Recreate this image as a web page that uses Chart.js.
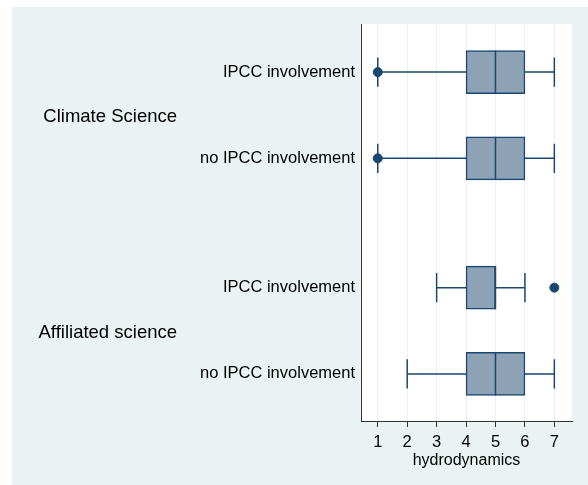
<!DOCTYPE html>
<html>
<head>
<meta charset="utf-8">
<script src="https://cdn.jsdelivr.net/npm/chart.js@4/dist/chart.umd.min.js"></script>
<style>
  html, body { margin: 0; padding: 0; background: #fff; }
  #wrap { width: 588px; height: 485px; position: relative; }
</style>
</head>
<body>
<div id="wrap"><canvas id="boxChart"></canvas></div>
<script>
// datos
const rowLabels = ['IPCC involvement', 'no IPCC involvement', 'IPCC involvement', 'no IPCC involvement'];
const rowPos = [1, 3, 6, 8];
const groupLabels = ['Climate Science', 'Affiliated science'];
const groupPos = [2, 7];

const whiskLow = [1, 1, 3, 2];
const q1 = [4, 4, 4, 4];
const median = [5, 5, 5, 5];
const q3 = [6, 6, 5, 6];
const whiskHigh = [7, 7, 6, 7];
const outliers = [[1], [1], [7], []];

const xTicks = [1, 2, 3, 4, 5, 6, 7];
const xTitle = 'hydrodynamics';

const navy = '#1a476f';
const boxFill = '#8da2b5';
const panel = '#eaf2f3';
const fontFam = '"Liberation Sans", Arial, Helvetica, sans-serif';

// segmentos: bigotes, tapas y medianas (null = corte)
const capHalf = 0.34, boxHalf = 0.5;
const segs = [];
rowPos.forEach((y, i) => {
  segs.push({ x: whiskLow[i], y }, { x: q1[i], y }, { x: null, y: null });
  segs.push({ x: q3[i], y }, { x: whiskHigh[i], y }, { x: null, y: null });
  segs.push({ x: whiskLow[i], y: y - capHalf }, { x: whiskLow[i], y: y + capHalf }, { x: null, y: null });
  segs.push({ x: whiskHigh[i], y: y - capHalf }, { x: whiskHigh[i], y: y + capHalf }, { x: null, y: null });
  segs.push({ x: median[i], y: y - boxHalf }, { x: median[i], y: y + boxHalf }, { x: null, y: null });
});

const outPts = [];
outliers.forEach((arr, i) => arr.forEach(v => outPts.push({ x: v, y: rowPos[i] })));

const fondo = {
  id: 'fondo',
  beforeDraw(chart) {
    const { ctx, chartArea: a } = chart;
    ctx.save();
    ctx.fillStyle = panel;
    ctx.fillRect(12, 7, chart.width - 12, chart.height - 7);
    ctx.fillStyle = '#fff';
    ctx.fillRect(a.left, a.top, a.right - a.left, a.bottom - a.top);
    ctx.restore();
  },
  afterDraw(chart) {
    // etiquetas de grupo
    const { ctx } = chart;
    const ys = chart.scales.y;
    ctx.save();
    ctx.font = '18.5px ' + fontFam;
    ctx.fillStyle = '#000';
    ctx.textAlign = 'right';
    ctx.textBaseline = 'middle';
    groupLabels.forEach((g, i) => ctx.fillText(g, 177, ys.getPixelForValue(groupPos[i]) + 2));
    ctx.restore();
  }
};

new Chart(document.getElementById('boxChart'), {
  type: 'bar',
  data: {
    datasets: [
      {
        type: 'bar',
        data: rowPos.map((y, i) => ({ y, x: [q1[i], q3[i]] })),
        backgroundColor: boxFill,
        borderColor: navy,
        borderWidth: 1.5,
        borderSkipped: false,
        barThickness: 43,
        order: 2
      },
      {
        type: 'line',
        data: segs,
        borderColor: navy,
        borderWidth: 1.5,
        pointRadius: 0,
        spanGaps: false,
        fill: false,
        order: 1
      },
      {
        type: 'scatter',
        data: outPts,
        pointRadius: 4.5,
        pointBackgroundColor: navy,
        pointBorderColor: navy,
        order: 0
      }
    ]
  },
  options: {
    indexAxis: 'y',
    responsive: true,
    maintainAspectRatio: false,
    animation: false,
    layout: { padding: { top: 24, right: 16, left: 0, bottom: 0 } },
    plugins: { legend: { display: false }, tooltip: { enabled: false } },
    scales: {
      x: {
        type: 'linear',
        min: 0.43,
        max: 7.6,
        afterBuildTicks: s => { s.ticks = xTicks.map(v => ({ value: v })); },
        afterFit: s => { s.height = 64; },
        grid: { color: panel, lineWidth: 1, tickColor: '#333', tickLength: 6 },
        border: { display: true, color: '#333', width: 1 },
        ticks: { font: { family: fontFam, size: 16.5 }, color: '#000', padding: 6, autoSkip: false, maxRotation: 0 },
        title: { display: true, text: xTitle, font: { family: fontFam, size: 16 }, color: '#000', padding: { top: 0, bottom: 15 } }
      },
      y: {
        type: 'linear',
        reverse: true,
        offset: false,
        min: -0.116,
        max: 9.093,
        afterBuildTicks: s => { s.ticks = rowPos.map(v => ({ value: v })); },
        afterFit: s => { s.width = 361; },
        grid: { display: false, drawTicks: false },
        border: { display: true, color: '#333', width: 1 },
        ticks: {
          font: { family: fontFam, size: 16.5 },
          color: '#000',
          padding: 6,
          autoSkip: false,
          callback: v => rowLabels[rowPos.indexOf(v)]
        }
      }
    }
  },
  plugins: [fondo]
});
</script>
</body>
</html>
